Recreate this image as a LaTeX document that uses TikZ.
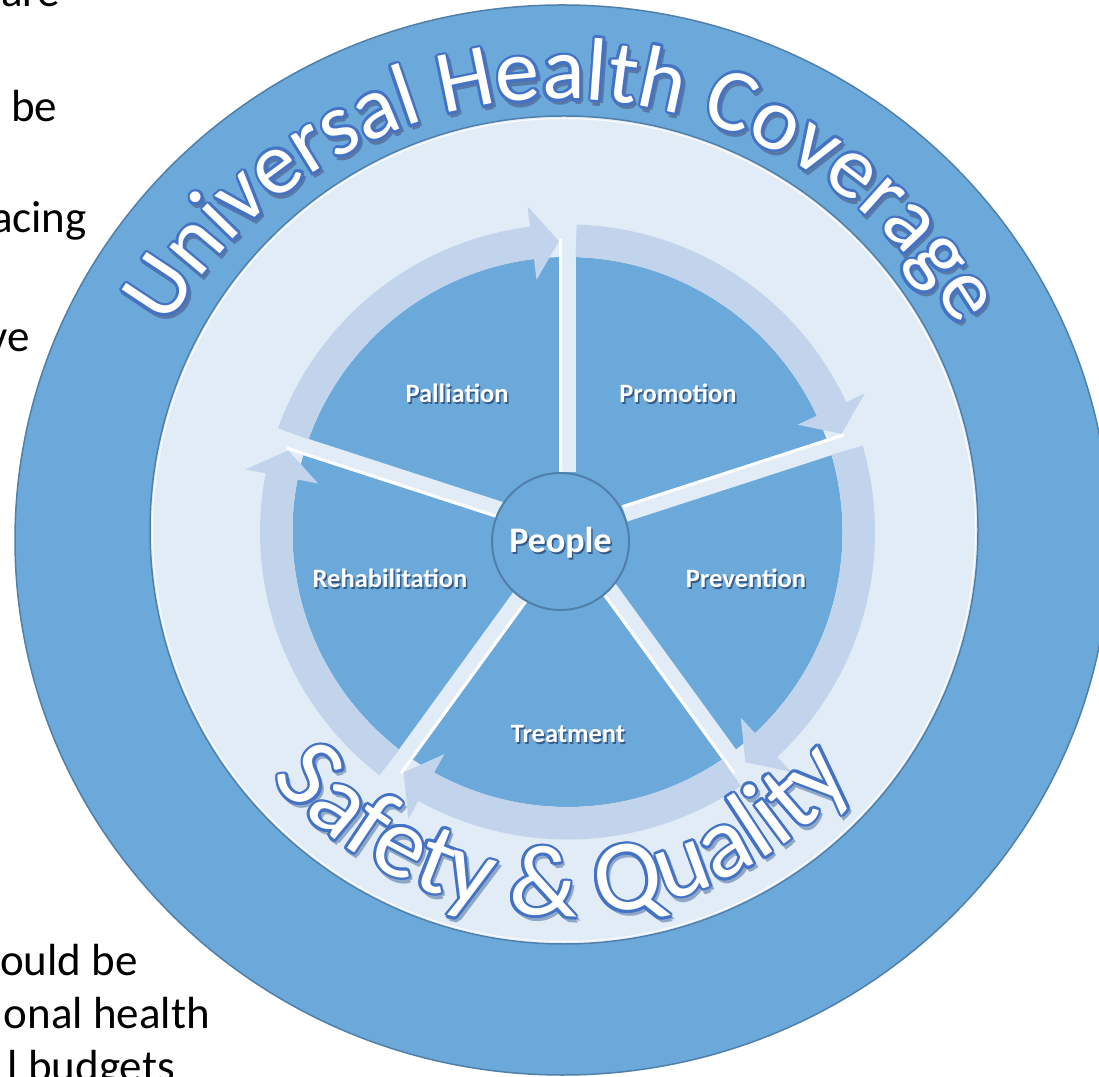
\documentclass[tikz,border=0pt]{standalone}
\usepackage{fontspec}
\setmainfont{Carlito}
\usetikzlibrary{calc,decorations.text}
\definecolor{ringblue}{RGB}{107,169,219}
\definecolor{edgeblue}{RGB}{80,128,170}
\definecolor{lightbg}{RGB}{226,236,247}
\definecolor{bandblue}{RGB}{194,212,235}
\definecolor{txtedge}{RGB}{68,114,196}
\definecolor{txtshadow}{RGB}{88,120,165}
\definecolor{lblshadow}{RGB}{55,90,135}
\newcommand\shadowtext[1]{\rlap{\hspace{1.5pt}\raisebox{-2pt}{\color{lblshadow}#1}}#1}
\tikzset{
  toparc/.style={decorate, decoration={text along path, text align=center,
     text={|\fontsize{89pt}{94pt}\selectfont\color{#1}|Universal Health Coverage}}},
  botarc/.style={decorate, decoration={text along path, text align=center,
     text={|\fontsize{101pt}{106pt}\selectfont\color{#1}|Safety {\&} Quality}}},
  lbl/.style={text=white, font=\fontsize{26.5pt}{29pt}\selectfont\bfseries, anchor=base, inner sep=0pt},
  bgtext/.style={text=black, font=\fontsize{45pt}{50pt}\selectfont, inner sep=0pt},
  spokeband/.style={draw=lightbg, line width=17pt},
  spokehi/.style={draw=white, line width=3pt},
  arrowband/.style={fill=bandblue},
  ringline/.style={draw=edgeblue, line width=1.5pt}
}
\begin{document}
\begin{tikzpicture}
\useasboundingbox (0pt,0pt) rectangle (1099pt,1076pt);
\clip (0pt,0pt) rectangle (1099pt,1076pt);
\fill[white] (0pt,0pt) rectangle (1099pt,1076pt);

% cut-off slide text on the left
\node[bgtext, anchor=base west] (ta) at (1pt,1069pt) {are};
\node[bgtext, anchor=base west] (tb) at (11pt,954pt) {be};
\node[bgtext, anchor=base east] (tc) at (87pt,843pt) {acing};
\node[bgtext, anchor=base east] (td) at (30pt,724pt) {ve};
\node[bgtext, anchor=base west] (te) at (0pt,101pt) {ould be};
\node[bgtext, anchor=base east] (tf) at (210pt,48pt) {onal health};
\node[bgtext, anchor=base east] (tg) at (175pt,-5pt) {l budgets};

% rings
\coordinate (oc) at (562.5pt,536pt);
\coordinate (tc) at (562.5pt,521pt);
\coordinate (pc) at (567.5pt,544pt);
\path[fill=ringblue, ringline] (oc) ellipse [x radius=547.5pt, y radius=535pt];
\path[fill=lightbg, ringline] (564pt,546pt) circle [radius=414pt];
\draw[white, line width=1pt] (564pt,546pt) circle [radius=411.5pt];

% blue pie
\fill[ringblue] (pc) circle [radius=275pt];

% spokes
\foreach \sa/\sd in {90/1, 18/1, -54/-1, -126/1, 162/1} {
  \draw[spokeband] ($(pc)+(\sa:60pt)$) -- ($(pc)+(\sa:296pt)$);
  \draw[spokehi] ($(pc)+(\sa:60pt)+({\sa+\sd*90}:7pt)$) -- ($(pc)+(\sa:293pt)+({\sa+\sd*90}:7pt)$);
}

% cycle arrows
\foreach \sa in {90,18,-54,-126,162} {
  \pgfmathsetmacro\ta{\sa-1.7}
  \pgfmathsetmacro\tb{\sa-65}
  \pgfmathsetmacro\tcc{\sa-70.3}
  \fill[arrowband] ($(pc)+(\ta:307.5pt)$) arc[start angle=\ta, end angle=\tb, radius=307.5pt]
    -- ($(pc)+(\tb:328pt)$) -- ($(pc)+(\tcc:291pt)$) -- ($(pc)+(\tb:254pt)$)
    -- ($(pc)+(\tb:275pt)$) arc[start angle=\tb, end angle=\ta, radius=275pt] -- cycle;
}

% centre
\node[circle, draw=edgeblue, fill=ringblue, line width=2pt, minimum size=137pt, inner sep=0pt] (people) at (560.5pt,534.5pt) {};
\node[lbl, font=\fontsize{36pt}{40pt}\selectfont\bfseries] (peoplelbl) at (560.5pt,523pt) {\shadowtext{People}};

% sector labels
\node[lbl] (pal) at (457pt,673pt) {\shadowtext{Palliation}};
\node[lbl] (pro) at (678pt,673pt) {\shadowtext{Promotion}};
\node[lbl] (reh) at (390pt,488pt) {\shadowtext{Rehabilitation}};
\node[lbl] (pre) at (746pt,488pt) {\shadowtext{Prevention}};
\node[lbl] (tre) at (568pt,333pt) {\shadowtext{Treatment}};

% curved outlined titles
\foreach \ang in {0,90,180,270} {
  \path[toparc=txtshadow] ($(tc)+(160:456pt)+(\ang:2.6pt)+(2pt,-3.5pt)$) arc[start angle=160, end angle=20, radius=456pt];
  \path[botarc=txtshadow!60!lightbg] ($(oc)+(200:376pt)+(\ang:2.6pt)+(2pt,-3.5pt)$) arc[start angle=200, end angle=340, radius=376pt];
}
\foreach \ang in {0,30,...,330} {
  \path[toparc=txtedge] ($(tc)+(160:456pt)+(\ang:2.6pt)$) arc[start angle=160, end angle=20, radius=456pt];
  \path[botarc=txtedge] ($(oc)+(200:376pt)+(\ang:2.6pt)$) arc[start angle=200, end angle=340, radius=376pt];
}
\path[toparc=white] ($(tc)+(160:456pt)$) arc[start angle=160, end angle=20, radius=456pt];
\path[botarc=white] ($(oc)+(200:376pt)$) arc[start angle=200, end angle=340, radius=376pt];
\end{tikzpicture}
\end{document}
